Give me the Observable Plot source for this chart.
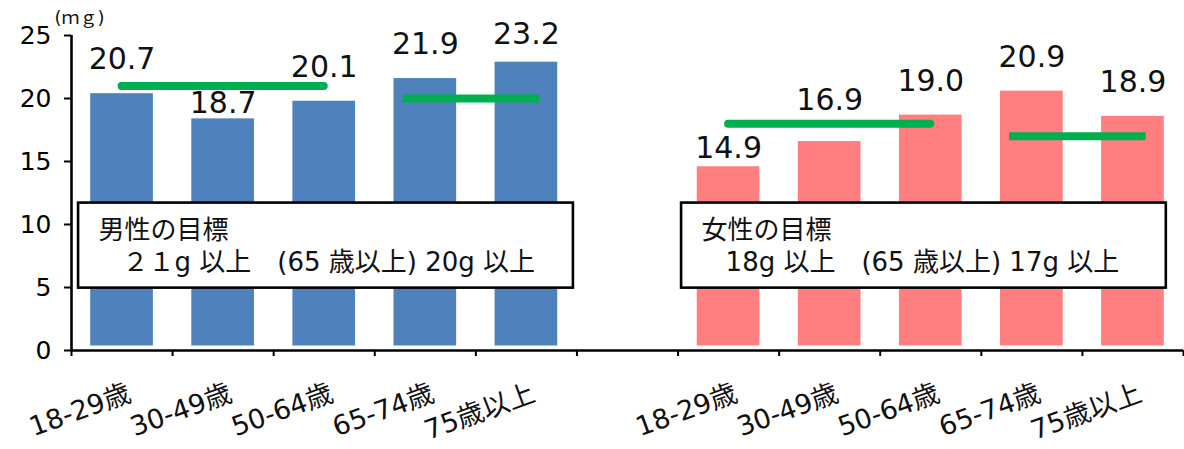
<!DOCTYPE html>
<html>
<head>
<meta charset="utf-8">
<script src="https://cdn.jsdelivr.net/npm/d3@7"></script>
<script src="https://cdn.jsdelivr.net/npm/@observablehq/plot@0.6"></script>
<style>
  html, body { margin: 0; padding: 0; background: #fff; }
  #chart { width: 1184px; height: 449px; overflow: hidden; }
</style>
</head>
<body>
<div id="chart"></div>
<script>
// ---- data ----
const categories = ["18-29歳", "30-49歳", "50-64歳", "65-74歳", "75歳以上"];
const maleValues = [20.7, 18.7, 20.1, 21.9, 23.2];
const femaleValues = [14.9, 16.9, 19.0, 20.9, 18.9];
const maleTargets = [21, 20];          // all ages, 65+
const femaleTargets = [18, 17];
const targetSpans = [[0, 2], [2.78, 4.13]]; // category positions covered inside a group
const yTicks = [0, 5, 10, 15, 20, 25];
const unitLabel = "(ｍｇ)";
const maleNote = ["男性の目標", "２１g 以上　(65 歳以上) 20g 以上"];
const femaleNote = ["女性の目標", "18g 以上　(65 歳以上) 17g 以上"];

// ---- derived tables ----
const FEMALE_OFFSET = 6; // one empty slot between the two groups
const bars = [
  ...maleValues.map((v, i) => ({group: "男", cat: categories[i], pos: i, value: v})),
  ...femaleValues.map((v, i) => ({group: "女", cat: categories[i], pos: i + FEMALE_OFFSET, value: v}))
];
const targets = [
  ...maleTargets.map((t, k) => ({value: t, x1: targetSpans[k][0], x2: targetSpans[k][1], k})),
  ...femaleTargets.map((t, k) => ({value: t, x1: targetSpans[k][0] + FEMALE_OFFSET, x2: targetSpans[k][1] + FEMALE_OFFSET, k}))
];
const boundaries = d3.range(0, categories.length * 2 + 2).map(i => i - 0.5);
const notes = [
  {x1: -0.43, x2: 4.465, lines: maleNote},
  {x1: 5.535, x2: 10.33, lines: femaleNote}
];

const FONT = "'DejaVu Sans', 'Noto Sans CJK JP', sans-serif";
const BLUE = "#4F81BD", PINK = "#FF7F80", GREEN = "#00B050";

// label nudges (pixels) to keep value labels clear of the target lines
const nudge = {"男|30-49歳": -11, "男|75歳以上": -24, "女|18-29歳": -14, "女|30-49歳": -37};
const dyOf = d => nudge[d.group + "|" + d.cat] ?? -30;
const labelGroups = d3.groups(bars, dyOf);

const BOX_TOP = 11.7, BOX_BOTTOM = 4.95;

const chart = Plot.plot({
  width: 1184,
  height: 449,
  marginLeft: 71,
  marginRight: 1,
  marginTop: 35,
  marginBottom: 99,
  style: {fontFamily: FONT, fontSize: "24px", color: "#000", background: "#fff", overflow: "visible"},
  x: {type: "linear", domain: [-0.5, 10.5], axis: null},
  y: {domain: [0, 25], axis: null},
  marks: [
    // bars
    Plot.rect(bars.filter(d => d.group === "男"), {x1: d => d.pos - 0.31, x2: d => d.pos + 0.31, y1: 0, y2: "value", fill: BLUE, insetTop: 4, insetBottom: 4.5}),
    Plot.rect(bars.filter(d => d.group === "女"), {x1: d => d.pos - 0.31, x2: d => d.pos + 0.31, y1: 0, y2: "value", fill: PINK, insetTop: 4, insetBottom: 4.5}),
    // target lines
    Plot.ruleY(targets.filter(d => d.k === 0), {y: "value", x1: "x1", x2: "x2", stroke: GREEN, strokeWidth: 8, strokeLinecap: "round"}),
    Plot.ruleY(targets.filter(d => d.k === 1), {y: "value", x1: "x1", x2: "x2", stroke: GREEN, strokeWidth: 8, strokeLinecap: "butt"}),
    // value labels
    ...labelGroups.map(([dy, rows]) =>
      Plot.text(rows, {x: "pos", y: "value", text: d => d.value.toFixed(1), dy, fontSize: 30, fill: "#111"})
    ),
    // note boxes
    Plot.rect(notes, {x1: "x1", x2: "x2", y1: BOX_BOTTOM, y2: BOX_TOP, fill: "#fff", stroke: "#000", strokeWidth: 2.6}),
    Plot.text(notes, {x: "x1", y: BOX_TOP, text: d => d.lines[0], textAnchor: "start", lineAnchor: "middle", dx: 20, dy: 28, fontSize: 26, fill: "#111"}),
    Plot.text(notes, {x: "x1", y: BOX_TOP, text: d => d.lines[1], textAnchor: "start", lineAnchor: "middle", dx: 44, dy: 60, fontSize: 26, fill: "#111"}),
    // axes
    Plot.axisY({ticks: yTicks, tickSize: 7, tickPadding: 13, tickFormat: d => String(d), label: null, fontSize: 25, strokeWidth: 2}),
    Plot.ruleX([-0.5], {y1: 0, y2: 25, strokeWidth: 2.6}),
    Plot.axisX({ticks: boundaries, tickSize: 6, tickFormat: () => "", label: null, strokeWidth: 2}),
    Plot.ruleY([0], {strokeWidth: 2.6}),
    Plot.text(bars, {x: "pos", y: 0, text: "cat", rotate: -20, textAnchor: "end", lineAnchor: "top", dx: 4, dy: 32, fontSize: 27, fill: "#111"}),
    // unit label
    Plot.text([unitLabel], {frameAnchor: "top-left", text: d => d, textAnchor: "start", lineAnchor: "middle", dx: -17, dy: -17, fontSize: 18, fill: "#111"})
  ]
});
document.getElementById("chart").appendChild(chart);
</script>
</body>
</html>
